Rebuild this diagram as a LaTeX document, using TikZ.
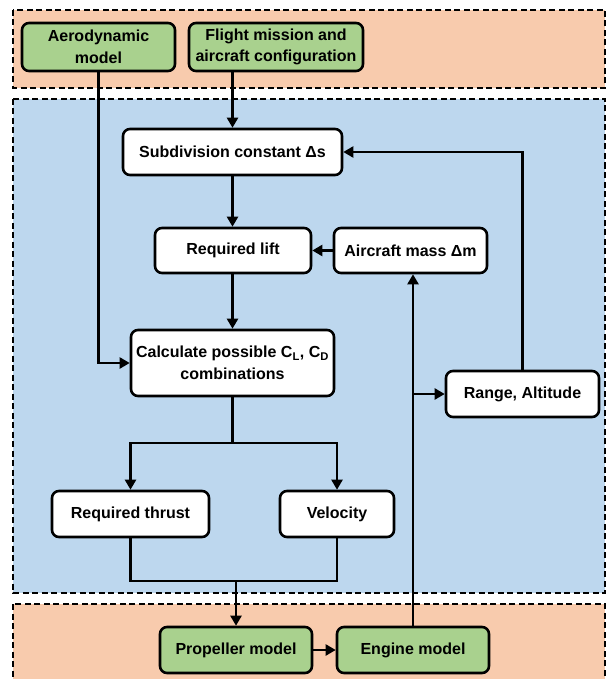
\documentclass[tikz,border=0pt]{standalone}
\usepackage{fontspec}
\setmainfont{Liberation Sans}
\usetikzlibrary{arrows.meta}
\definecolor{panelorange}{HTML}{F8CBAD}
\definecolor{panelblue}{HTML}{BDD7EE}
\definecolor{boxgreen}{HTML}{A9D18E}
\begin{document}
\begin{tikzpicture}[x=1pt,y=-1pt,
  panel/.style={draw=black,line width=1.8pt,dash pattern=on 6pt off 3.5pt},
  box/.style={draw=black,line width=2.6pt,rounded corners=7pt,fill=white,align=center,inner sep=0pt,
    font=\fontsize{16}{21.5}\selectfont\bfseries},
  gbox/.style={box,fill=boxgreen},
  conn/.style={draw=black,line width=2.2pt},
  arr/.style={conn,-{Triangle[length=10pt,width=11pt]}}]
\useasboundingbox (0,0) rectangle (606,679);
\begin{scope}
\clip (0,0) rectangle (606,679);
\fill[white] (0,0) rectangle (606,679);
\path[panel,fill=panelorange] (13,10) rectangle (605,88);
\path[panel,fill=panelblue] (13,99) rectangle (605,593);
\path[panel,fill=panelorange] (13,604) rectangle (605,700);
\end{scope}
\node[gbox,minimum width=153pt,minimum height=48pt] (aero) at (98.5,47) {Aerodynamic\\model};
\node[gbox,minimum width=174pt,minimum height=48pt] (flight) at (276,47) {Flight mission and\\aircraft configuration};
\node[box,minimum width=219pt,minimum height=46pt] (subdiv) at (232.5,152) {Subdivision constant Δs};
\node[box,minimum width=156pt,minimum height=45pt] (lift) at (233,250.5) {Required lift};
\node[box,minimum width=153pt,minimum height=45pt] (mass) at (410.5,250.5) {Aircraft mass Δm};
\node[box,minimum width=203pt,minimum height=66pt] (calc) at (232.5,363) {Calculate possible C\textsubscript{L}, C\textsubscript{D}\\combinations};
\node[box,minimum width=153pt,minimum height=46pt] (range) at (522.5,394) {Range, Altitude};
\node[box,minimum width=157pt,minimum height=46pt] (thrust) at (130.5,514) {Required thrust};
\node[box,minimum width=114pt,minimum height=46pt] (vel) at (337,514) {Velocity};
\node[gbox,minimum width=152pt,minimum height=46pt] (prop) at (236,650) {Propeller model};
\node[gbox,minimum width=152pt,minimum height=46pt] (engine) at (413,650) {Engine model};
\coordinate (split) at (232.5,443);
\coordinate (join) at (236,581);
\coordinate (branch) at (413,394);
\draw[arr] (aero.south) |- (calc.west);
\draw[arr] (subdiv.north |- flight.south) -- (subdiv.north);
\draw[arr] (subdiv) -- (subdiv.south |- lift.north);
\draw[arr] (mass.west) -- (lift.east);
\draw[arr] (lift.south -| calc.north) -- (calc.north);
\draw[conn] (calc.south) -- (split);
\draw[arr] (split) -| (thrust.north);
\draw[arr] (split) -| (vel.north);
\draw[conn] (thrust.south) |- (join) -| (vel.south);
\draw[arr] (join) -- (prop.north);
\draw[arr] (prop.east) -- (engine.west);
\draw[arr] (engine.north) -- (engine.north |- mass.south);
\draw[arr] (branch) -- (range.west);
\draw[arr] (range.north) |- (subdiv.east);
\end{tikzpicture}
\end{document}
